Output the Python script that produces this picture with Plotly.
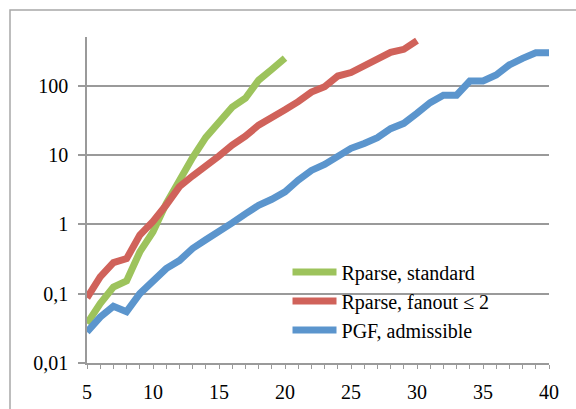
import plotly.graph_objects as go

x_green = list(range(5, 21))
y_green = [0.037, 0.072, 0.125, 0.153, 0.40, 0.78, 2.0, 4.5, 9.2, 18, 30, 49, 66, 120, 172, 250]

x_red = list(range(5, 31))
y_red = [0.087, 0.175, 0.28, 0.32, 0.70, 1.1, 1.9, 3.5, 5.0, 6.8, 9.7, 13.9, 18.7, 27, 34, 45,
         59, 81, 97, 138, 155, 193, 235, 303, 335, 447]

x_blue = list(range(5, 41))
y_blue = [0.028, 0.046, 0.066, 0.055, 0.10, 0.148, 0.23, 0.30, 0.45, 0.60, 0.78, 1.05, 1.42,
          1.88, 2.3, 2.95, 4.35, 6.0, 7.3, 9.5, 12.5, 14.7, 17.8, 24, 28.7, 40, 57, 73, 73,
          117, 117, 143, 200, 248, 298, 298]

names = ["Rparse, standard", "Rparse, fanout \u2264 2", "PGF, admissible"]
colors = ["#9dc35c", "#d0625a", "#5b95cd"]

y_tickvals = [0.01, 0.1, 1, 10, 100]
y_ticktext = ["0,01", "0,1", "1", "10", "100"]
x_tickvals = [5, 10, 15, 20, 25, 30, 35, 40]

FONT = "Liberation Serif"
GRID = "#9a9a9a"

fig = go.Figure()
for xs, ys, nm, c in zip([x_green, x_red, x_blue], [y_green, y_red, y_blue], names, colors):
    fig.add_trace(go.Scatter(x=xs, y=ys, mode="lines", name=nm,
                             line=dict(color=c, width=7)))

fig.update_layout(
    width=576, height=409,
    margin=dict(l=87, r=27, t=37, b=46),
    paper_bgcolor="white", plot_bgcolor="white",
    font=dict(family=FONT, size=20, color="black"),
    showlegend=True,
    legend=dict(x=0.434, y=0.339, xanchor="left", yanchor="top",
                bgcolor="rgba(0,0,0,0)", font=dict(family=FONT, size=20),
                itemwidth=44, tracegroupgap=0),
    xaxis=dict(range=[5, 40], tickvals=x_tickvals, ticktext=[str(v) for v in x_tickvals],
               showgrid=False, zeroline=False, showline=True, linecolor=GRID, linewidth=1.5,
               ticks="outside", ticklen=4, tickwidth=1.2, tickcolor=GRID,
               minor=dict(dtick=1, ticks="outside", ticklen=4, tickwidth=1.2, tickcolor=GRID,
                          showgrid=False),
               ticklabelstandoff=6, automargin=False),
    yaxis=dict(type="log", range=[-2, 2.703], tickvals=y_tickvals, ticktext=y_ticktext,
               showgrid=True, gridcolor=GRID, gridwidth=1.5, zeroline=False,
               showline=True, linecolor=GRID, linewidth=1.5,
               ticks="outside", ticklen=7, tickwidth=1.5, tickcolor=GRID,
               ticklabelstandoff=6, automargin=False),
    shapes=[dict(type="rect", xref="paper", yref="paper",
                 x0=(10 - 87) / 462, x1=1.3, y0=-0.3, y1=(363 - 10) / 326,
                 line=dict(color="#a8a8a8", width=1.5), layer="below")],
)

fig.write_html("out.html", config={"displayModeBar": False},
               post_script="document.body.style.margin='0';")
